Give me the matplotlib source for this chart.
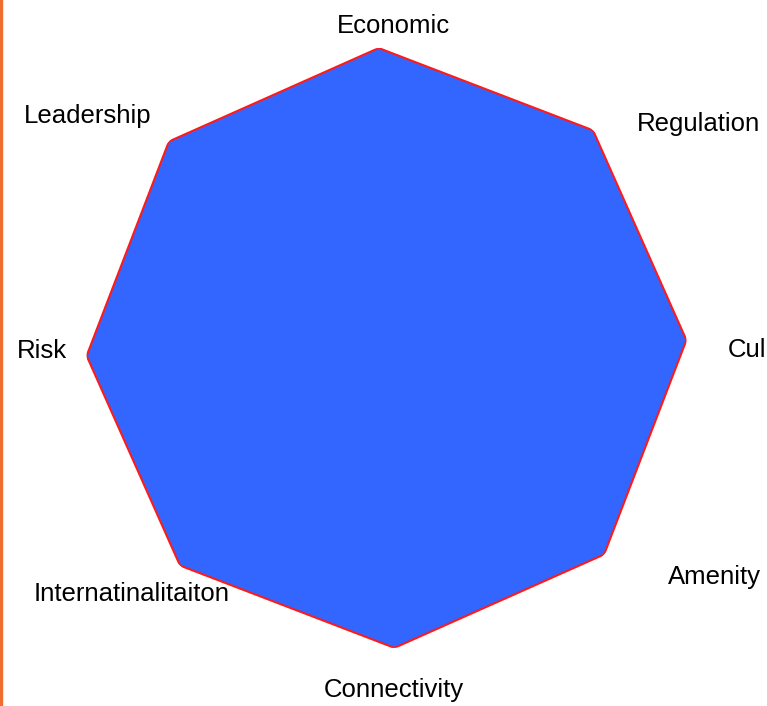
import numpy as np
import matplotlib
matplotlib.use("Agg")
import matplotlib.pyplot as plt
from matplotlib.lines import Line2D

plt.rcParams['font.family'] = ['Liberation Sans', 'DejaVu Sans']

# data
categories = ["Economic", "Regulation", "Cul", "Amenity",
              "Connectivity", "Internatinalitaiton", "Risk", "Leadership"]
values = [100, 100, 100, 100, 100, 100, 100, 100]
max_value = 100

# label placement (clockwise degrees from top, radius as fraction of max)
label_angle = [1.3, 54.4, 90.3, 125.0, 178.7, 226.0, 269.5, 307.8]
label_radius = [1.075, 1.28, 1.2, 1.333, 1.142, 1.18, 1.148, 1.262]

rot = 1.5  # small counter-clockwise twist of the whole web

fig = plt.figure(figsize=(7.67, 7.06), dpi=100)
ax = fig.add_axes([0.1128, 0.0822, 0.7823, 0.8499], projection="polar")

ax.set_theta_direction(-1)
ax.set_theta_offset(np.pi / 2 + np.deg2rad(rot))

angles = np.linspace(0, 2 * np.pi, len(categories), endpoint=False)
theta = np.append(angles, angles[0])
r = np.append(values, values[0])

ax.fill(theta, r, color="#3366ff", linewidth=0, zorder=2)
ax.plot(theta, r, color="#ff1a1a", linewidth=1.5, zorder=3,
        solid_joinstyle="miter")

ax.set_ylim(0, max_value)
ax.set_xticks([])
ax.set_yticks([])
ax.grid(False)
ax.spines["polar"].set_visible(False)
ax.patch.set_visible(False)

for name, a, rr in zip(categories, label_angle, label_radius):
    ax.text(np.deg2rad(a + rot), rr * max_value, name, fontsize=18.5,
            ha="center", va="center", color="black", clip_on=False)

# orange rule at the left edge
fig.add_artist(Line2D([0.0015, 0.0015], [0, 1], color="#f26d30",
                      linewidth=2.4, transform=fig.transFigure))

fig.savefig("out.png", dpi=100)
